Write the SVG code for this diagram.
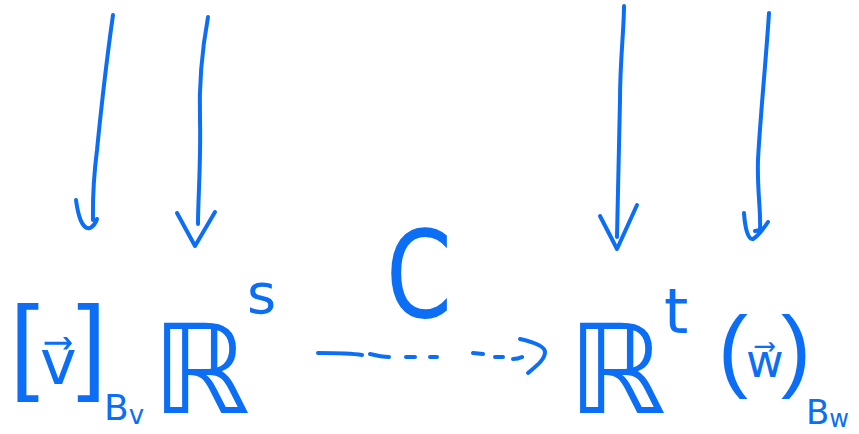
<svg xmlns="http://www.w3.org/2000/svg" width="859" height="434" viewBox="0 0 859 434">
<style>
.ink{fill:none;stroke:#0b6ef5;stroke-width:4;stroke-linecap:round;stroke-linejoin:round}
.t{fill:#0b6ef5;font-family:"DejaVu Sans","Liberation Sans",sans-serif}
.b{fill:#0b6ef5;font-family:"Liberation Sans","DejaVu Sans",sans-serif}
</style>
<rect width="859" height="434" fill="#fff"/>
<g id="connectors">
<path class="ink" d="M113,15 C108,50 102,100 97,150 C92,190 93,205 93,220"/>
<path class="ink" d="M76,200 C78,215 82,230 90,228 C94,226 96,222 97,219"/>
<path class="ink" d="M208,17 C202,50 199,90 200,120 C201,160 198,200 198,224"/>
<path class="ink" d="M177,213 L195,246 L215,212"/>
<path class="ink" d="M624,6 C624,30 620,60 620,100 C619,150 618,200 617,237"/>
<path class="ink" d="M600,216 L617,249 L637,205"/>
<path class="ink" d="M769,13 C766,60 760,120 758,160 C757,190 761,210 760,230"/>
<path class="ink" d="M744,213 C745,228 748,240 753,239 C758,236 764,228 768,222 M755,231 L760,230"/>
<path class="ink" d="M318,353 C335,353 350,353 362,355 M370,354 C378,356 383,357 389,357 M406,357 L415,357 M430,357 L437,357 M473,353 L483,354 M495,357 L503,357 M513,359 C516,359 520,358 522,357"/>
<path class="ink" d="M520,339 C533,342 545,346 545,352 C545,360 535,367 528,373"/>
</g>
<g id="node-v">
<text class="b" x="10" y="380" font-size="105">[</text>
<text class="t" x="40" y="384" font-size="62">v⃗</text>
<text class="b" x="77" y="380" font-size="105">]</text>
<text class="t" x="104" y="420" font-size="36">B<tspan font-size="26" dy="4">v</tspan></text>
</g>
<g id="node-Rs">
<text class="t" x="152" y="413" font-size="124">ℝ</text>
<text class="t" x="247" y="313" font-size="56">s</text>
</g>
<g id="node-C">
<text class="t" x="386" y="317" font-size="122" textLength="66" lengthAdjust="spacingAndGlyphs">C</text>
</g>
<g id="node-Rt">
<text class="t" x="568" y="413" font-size="124">ℝ</text>
<text class="t" x="664" y="333" font-size="62">t</text>
</g>
<g id="node-w">
<text class="b" x="718" y="380" font-size="90">(</text>
<text class="t" x="746" y="377" font-size="46">w⃗</text>
<text class="b" x="781" y="380" font-size="90">)</text>
<text class="t" x="806" y="424" font-size="34">B<tspan font-size="24" dy="3">w</tspan></text>
</g>
</svg>
